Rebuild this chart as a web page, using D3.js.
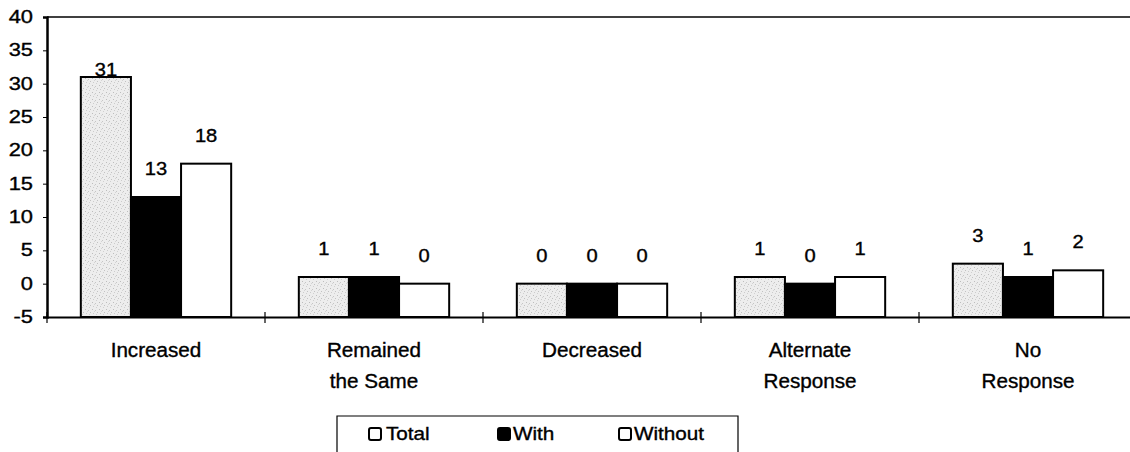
<!DOCTYPE html>
<html><head><meta charset="utf-8">
<script src="https://cdn.jsdelivr.net/npm/d3@7"></script>
<style>body{margin:0;background:#fff;} svg{display:block;} text{font-family:"Liberation Sans",Arial,sans-serif;fill:#000;stroke:#000;stroke-width:0.35px;}</style>
</head><body>
<svg id="c" width="1130" height="452"></svg>
<script>
const categories = ["Increased", "Remained|the Same", "Decreased", "Alternate|Response", "No|Response"];
const seriesNames = ["Total", "With", "Without"];
const totalValues = [31, 1, 0, 1, 3];
const withValues = [13, 1, 0, 0, 1];
const withoutValues = [18, 0, 0, 1, 2];
const yTicks = [-5, 0, 5, 10, 15, 20, 25, 30, 35, 40];

const seriesValues = [totalValues, withValues, withoutValues];
const fills = ["#ececec", "#000", "#fff"];

const svg = d3.select("#c");
const plotLeft = 47, plotRight = 1137, plotTop = 17, plotBottom = 317;

const y = d3.scaleLinear().domain([-5, 40]).range([plotBottom, plotTop]);
const x0 = d3.scaleBand().domain(categories).range([plotLeft, plotRight]).paddingInner(0).paddingOuter(0);
const x1 = d3.scaleBand().domain(seriesNames).range([0, x0.bandwidth()]).paddingInner(0).paddingOuter(0.675);

function stretchText(g, x, yy, txt, size, sx, anchor) {
  return g.append("text")
    .attr("transform", `translate(${x},${yy}) scale(${sx},1)`)
    .attr("text-anchor", anchor)
    .attr("font-size", size)
    .text(txt);
}

// speckle pattern for Total
const defs = svg.append("defs");
const pat = defs.append("pattern").attr("id", "speck").attr("patternUnits", "userSpaceOnUse")
  .attr("width", 7).attr("height", 7);
pat.append("rect").attr("width", 7).attr("height", 7).attr("fill", "#ededed");
[[1,1,"#bdbdbd"],[4,2,"#c6c6c6"],[2,5,"#cccccc"],[6,4,"#c2c2c2"],[5,6,"#d0d0d0"],[3,3,"#d4d4d4"]].forEach(d => {
  pat.append("rect").attr("x", d[0]).attr("y", d[1]).attr("width", 1).attr("height", 1).attr("fill", d[2]);
});

// top border
svg.append("line").attr("x1", plotLeft).attr("x2", 1130).attr("y1", plotTop).attr("y2", plotTop)
  .attr("stroke", "#000").attr("stroke-width", 1.5);

// bars
categories.forEach((c, ci) => {
  seriesNames.forEach((s, si) => {
    const v = seriesValues[si][ci];
    svg.append("rect")
      .attr("x", x0(c) + x1(s))
      .attr("y", y(v))
      .attr("width", x1.bandwidth())
      .attr("height", y(-5) - y(v))
      .attr("fill", si === 0 ? "url(#speck)" : fills[si])
      .attr("stroke", "#000").attr("stroke-width", 2);
  });
});

// value labels
const maxV = d3.max(totalValues);
categories.forEach((c, ci) => {
  seriesNames.forEach((s, si) => {
    const v = seriesValues[si][ci];
    const off = (v === maxV) ? -1 : -22;
    stretchText(svg, x0(c) + x1(s) + x1.bandwidth() / 2, y(v) + off, v, 17.5, 1.15, "middle");
  });
});

// y axis
const yAxis = d3.axisLeft(y).tickValues(yTicks).tickSize(4).tickFormat("");
const yg = svg.append("g").attr("transform", `translate(${plotLeft},0)`).call(yAxis);
yg.select(".domain").attr("stroke-width", 2.5);
yTicks.forEach(t => {
  stretchText(svg, 33, y(t) + 6, t, 17.5, 1.25, "end");
});

// x axis
const xAxis = d3.axisBottom(x0).tickSize(0).tickFormat("");
const xg = svg.append("g").attr("transform", `translate(0,${plotBottom})`).call(xAxis);
xg.select(".domain").attr("stroke-width", 2);
// category boundary ticks
categories.forEach(c => {
  svg.append("line").attr("x1", x0(c)).attr("x2", x0(c)).attr("y1", plotBottom - 5).attr("y2", plotBottom + 6)
    .attr("stroke", "#000").attr("stroke-width", 1.2);
});

// category labels
categories.forEach(c => {
  const lines = c.split("|");
  lines.forEach((ln, li) => {
    stretchText(svg, x0(c) + x0.bandwidth() / 2, 357 + li * 31, ln, 19.5, 1.06, "middle");
  });
});

// legend
const lg = svg.append("g");
lg.append("path").attr("d", "M337,452 V416 H738 V452").attr("fill", "none").attr("stroke", "#000").attr("stroke-width", 1.2);
const legSq = [369, 498, 619];
const legTx = [386, 513, 634];
seriesNames.forEach((s, si) => {
  lg.append("rect").attr("x", legSq[si]).attr("y", 428).attr("width", 12).attr("height", 12)
    .attr("rx", 2)
    .attr("fill", si === 1 ? "#000" : "#fff").attr("stroke", "#000").attr("stroke-width", 2);
  stretchText(lg, legTx[si], 440, s, 18, 1.15, "start");
});
</script>
</body></html>
